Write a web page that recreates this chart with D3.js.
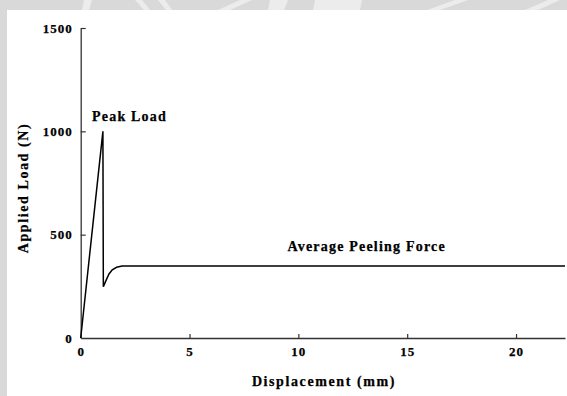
<!DOCTYPE html>
<html lang="en">
<head>
    <meta charset="UTF-8">
    <title>Applied Load vs Displacement</title>
    <script src="https://d3js.org/d3.v7.min.js"></script>
    <style>
        body { margin: 0; background-color: #fff; }
        svg text { font-family: "Liberation Serif", "Times New Roman", serif !important; font-weight: bold; fill: #000; stroke: #000; stroke-width: 0.25px; }
    </style>
</head>
<body>
    <div id="chart"></div>
    <script>
        // Data
        const displacement = [0, 1.02, 1.04, 1.15, 1.3, 1.45, 1.65, 1.9, 22.25];
        const load = [0, 1000, 248, 275, 310, 330, 342, 348, 348];
        const xTicks = [0, 5, 10, 15, 20];
        const yTicks = [0, 500, 1000, 1500];
        const notes = [
            { text: "Peak Load", x: 0.52, y: 1075 },
            { text: "Average Peeling Force", x: 9.5, y: 445 }
        ];

        const width = 567, height = 396;
        const serif = "'Liberation Serif', 'Times New Roman', serif";

        const svg = d3.select("#chart").append("svg")
            .attr("width", width)
            .attr("height", height);

        // grey frame with faint watermark at top
        svg.append("rect").attr("width", width).attr("height", height).attr("fill", "#d9d9d9");
        const marks = [
            [[84, 0], [92, 0], [89, 10], [82, 10]],
            [[135, 0], [142, 0], [150, 10], [144, 10]],
            [[158, 0], [165, 0], [172, 10], [166, 10]],
            [[240, 0], [252, 0], [230, 10], [218, 10]],
            [[270, 0], [288, 0], [284, 10], [268, 10]],
            [[315, 0], [362, 0], [360, 10], [313, 10]],
            [[455, 0], [468, 0], [440, 10], [427, 10]],
            [[548, 0], [560, 0], [538, 10], [525, 10]]
        ];
        svg.append("g").selectAll("path").data(marks).enter().append("path")
            .attr("d", d => "M" + d.join("L") + "Z")
            .attr("fill", "#ececec");
        svg.append("rect").attr("x", 7).attr("y", 10)
            .attr("width", width - 7).attr("height", height - 10).attr("fill", "#fff");

        const x = d3.scaleLinear().domain([0, 22.25]).range([80.7, 565]);
        const y = d3.scaleLinear().domain([0, 1500]).range([338, 28]);

        const xAxis = svg.append("g")
            .attr("transform", `translate(0,${y(0)})`)
            .call(d3.axisBottom(x).tickValues(xTicks).tickFormat(d3.format("d"))
                .tickSizeInner(-4).tickSizeOuter(0).tickPadding(9));

        const yAxis = svg.append("g")
            .attr("transform", `translate(${x(0)},0)`)
            .call(d3.axisLeft(y).tickValues(yTicks).tickFormat(d3.format("d"))
                .tickSizeInner(-5).tickSizeOuter(0).tickPadding(8));

        [xAxis, yAxis].forEach(g => {
            g.attr("font-family", serif);
            g.select(".domain").attr("stroke", "#333").attr("stroke-width", 1.3);
            g.selectAll(".tick line").attr("stroke", "#333").attr("stroke-width", 1.2);
            g.selectAll(".tick text")
                .style("font-family", serif)
                .style("font-size", "13px")
                .style("letter-spacing", "1px");
        });
        yAxis.selectAll(".tick").filter(d => d === 0).select("line").remove();
        xAxis.selectAll(".tick").filter(d => d === 0).select("line").remove();

        const line = d3.line()
            .x((d, i) => x(displacement[i]))
            .y(d => y(d));

        svg.append("path")
            .datum(load)
            .attr("d", line)
            .attr("fill", "none")
            .attr("stroke", "#000")
            .attr("stroke-width", 1.5);

        svg.selectAll(".note")
            .data(notes)
            .enter().append("text")
            .attr("class", "note")
            .attr("x", d => x(d.x))
            .attr("y", d => y(d.y))
            .attr("dy", "0.35em")
            .style("font-family", serif)
            .style("font-size", "14px")
            .style("letter-spacing", "1.2px")
            .text(d => d.text);

        // axis titles
        svg.append("text")
            .attr("x", 324)
            .attr("y", 381)
            .attr("dy", "0.35em")
            .attr("text-anchor", "middle")
            .style("font-family", serif)
            .style("font-size", "14px")
            .style("letter-spacing", "1.6px")
            .text("Displacement (mm)");

        svg.append("text")
            .attr("transform", "translate(23,188) rotate(-90)")
            .attr("dy", "0.35em")
            .attr("text-anchor", "middle")
            .style("font-family", serif)
            .style("font-size", "14px")
            .style("letter-spacing", "1.6px")
            .text("Applied Load (N)");
    </script>
</body>
</html>
